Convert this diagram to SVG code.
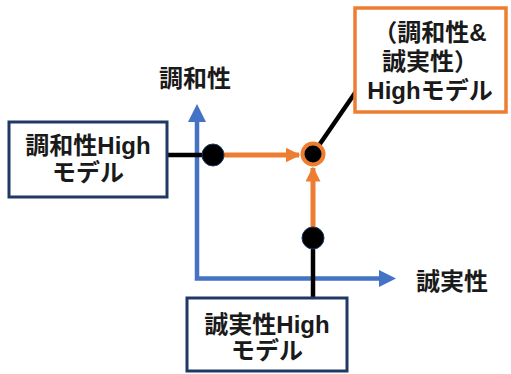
<svg xmlns="http://www.w3.org/2000/svg" width="511" height="374" viewBox="0 0 511 374">
<style>
text{font-family:"Liberation Sans","Noto Sans CJK JP",sans-serif;font-weight:bold;font-size:24px;fill:#1a1a1a;text-anchor:middle;dominant-baseline:central}
.box{fill:#fff;stroke:#1F3864;stroke-width:3}
.obox{fill:#fff;stroke:#ED7D31;stroke-width:3.5}
.ax{stroke:#4472C4;stroke-width:4.5;fill:none}
.blk{stroke:#000;stroke-width:4.5;fill:none}
.org{stroke:#ED7D31;stroke-width:5;fill:none}
.dot{fill:#000;stroke:#1F3864;stroke-width:1}
</style>
<defs>
<marker id="ab" viewBox="0 0 10 10" refX="9" refY="5" markerWidth="3.6" markerHeight="3.6" orient="auto" markerUnits="strokeWidth"><path d="M0,0L10,5L0,10z" fill="#4472C4"/></marker>
<marker id="ao" viewBox="0 0 10 10" refX="9" refY="5" markerWidth="3" markerHeight="3" orient="auto" markerUnits="strokeWidth"><path d="M0,0L10,5L0,10z" fill="#ED7D31"/></marker>
</defs>
<g id="axes">
<polyline class="ax" points="197,122 197,278.5 379,278.5"/>
<path d="M197,104L188,122L206,122z" fill="#4472C4"/>
<path d="M396,278.5L379,270L379,287z" fill="#4472C4"/>
<text x="195" y="78">調和性</text>
<text x="452" y="281">誠実性</text>
</g>
<g id="connectors">
<line class="blk" x1="167" y1="155" x2="213" y2="155"/>
<line class="blk" x1="313" y1="238" x2="313" y2="298"/>
<line class="blk" x1="313" y1="154" x2="357" y2="90"/>
<line class="org" x1="213" y1="155" x2="299" y2="155" marker-end="url(#ao)"/>
<line class="org" x1="313" y1="238" x2="313" y2="168" marker-end="url(#ao)"/>
</g>
<g id="dot-harmony"><circle class="dot" cx="213" cy="155" r="11"/></g>
<g id="dot-sincerity"><circle class="dot" cx="313" cy="238" r="11"/></g>
<g id="dot-both"><circle cx="313" cy="154" r="10.5" fill="#000" stroke="#ED7D31" stroke-width="4"/></g>
<g id="node-harmony">
<rect class="box" x="9" y="122" width="158" height="75"/>
<text x="88" y="145">調和性High</text>
<text x="88" y="172">モデル</text>
</g>
<g id="node-sincerity">
<rect class="box" x="187" y="298" width="160" height="73"/>
<text x="267" y="324">誠実性High</text>
<text x="267" y="350">モデル</text>
</g>
<g id="node-both">
<rect class="obox" x="355" y="8" width="151" height="104"/>
<text x="430" y="32">（調和性&amp;</text>
<text x="430" y="61">誠実性）</text>
<text x="430" y="90">Highモデル</text>
</g>
</svg>
